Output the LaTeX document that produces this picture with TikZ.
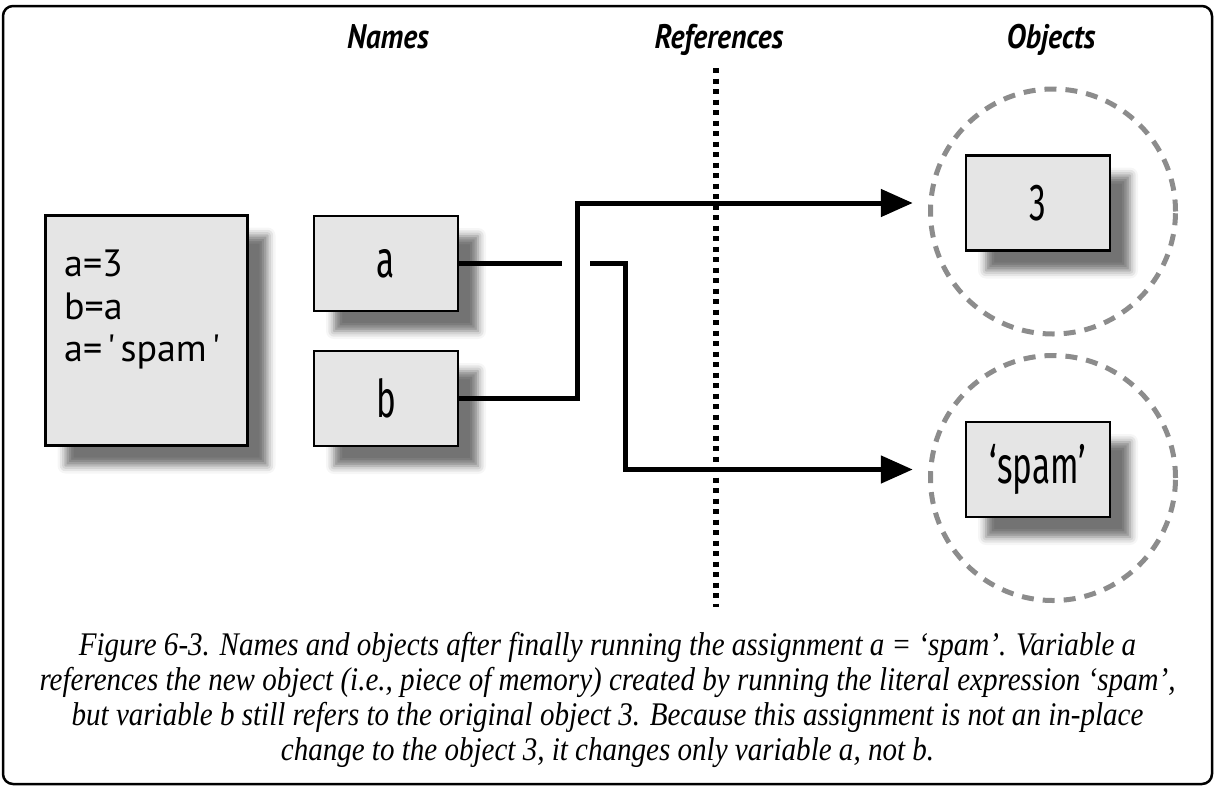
\documentclass[tikz,border=0pt]{standalone}
\usepackage{fontspec}
\usepackage{tikz}
\usetikzlibrary{arrows.meta,shadows.blur}

\newfontfamily\codefont{PT Sans}
\newfontfamily\boxfont[FakeStretch=0.64]{Fira Sans}
\newfontfamily\headfont[FakeStretch=0.87]{PT Sans}
\newfontfamily\capfont[FakeStretch=0.88]{Liberation Serif}

\definecolor{boxgray}{gray}{0.9}
\definecolor{ringgray}{gray}{0.55}

\begin{document}
\begin{tikzpicture}[x=1pt,y=-1pt,
    heading/.style={font=\headfont\bfseries\itshape\fontsize{34}{40}\selectfont, text height=24pt, text depth=8pt},
    box/.style={rectangle, draw, line width=2.5pt, fill=boxgray, inner sep=0pt,
      blur shadow={shadow xshift=20pt, shadow yshift=-20pt, shadow blur radius=8pt, shadow opacity=55}},
    namebox/.style={box, minimum width=144pt, minimum height=95pt, font=\boxfont\fontsize{52}{60}\selectfont},
    ring/.style={circle, draw=ringgray, line width=5pt, dash pattern=on 12pt off 9pt, minimum size=245pt, inner sep=0pt},
    link/.style={line width=5pt},
    arrowlink/.style={link, -{Triangle[length=32pt,width=27pt]}, shorten >=52pt}]

    \useasboundingbox (0,0) rectangle (1215,787);
    \draw[line width=2.5pt, rounded corners=10pt] (3,6) rectangle (1212,784);

    %% column headings
    \node (Names) [heading] at (388,40) {Names};
    \node (References) [heading, node distance=331pt, right of=Names] {References};
    \node (Objects) [heading, node distance=332pt, right of=References] {Objects};

    %% dotted divider
    \coordinate (DotTop) at (716,68);
    \coordinate (DotBot) at (716,607);
    \draw[line width=5.5pt, dash pattern=on 5pt off 5.5pt] (DotTop) -- (DotBot);

    %% objects
    \node (Ring3) [ring] at (1053,211.5) {};
    \node (RingSpam) [ring, node distance=266.5pt, below of=Ring3] {};
    \node (Three) [namebox] at (1038,203) {3};
    \node (Spam) [namebox, node distance=266.5pt, below of=Three] {‘spam’};

    %% code and names
    \node (Code) [box, minimum width=202pt, minimum height=230pt] at (146.5,330.5) {};
    \node (CodeText) [anchor=north west, inner sep=0pt, align=left,
      font=\codefont\fontsize{38}{42.5}\selectfont] at (64,250) {a=3\\b=a\\a=\hspace{5pt}'\hspace{5pt}spam\hspace{5pt}'};
    \node (A) [namebox] at (386,263.5) {a};
    \node (B) [namebox, node distance=135pt, below of=A] {b};

    %% references
    \coordinate (GapL) at (562,263.5);
    \coordinate (GapR) at (590,263.5);
    \coordinate (AJog) at (625,350);
    \coordinate (BJog) at (577,300);
    \draw[link] (A.east) -- (GapL);
    \draw[arrowlink] (GapR) -| (AJog) |- (Spam.west);
    \draw[arrowlink] (B.east) -| (BJog) |- (Three.west);

    %% caption
    \node (Caption) [align=center, inner sep=0pt, font=\capfont\itshape\fontsize{33}{35}\selectfont] at (607.5,700)
      {Figure 6-3. Names and objects after finally running the assignment a = ‘spam’. Variable a\\
       references the new object (i.e., piece of memory) created by running the literal expression ‘spam’,\\
       but variable b still refers to the original object 3. Because this assignment is not an in-place\\
       change to the object 3, it changes only variable a, not b.};

\end{tikzpicture}
\end{document}
